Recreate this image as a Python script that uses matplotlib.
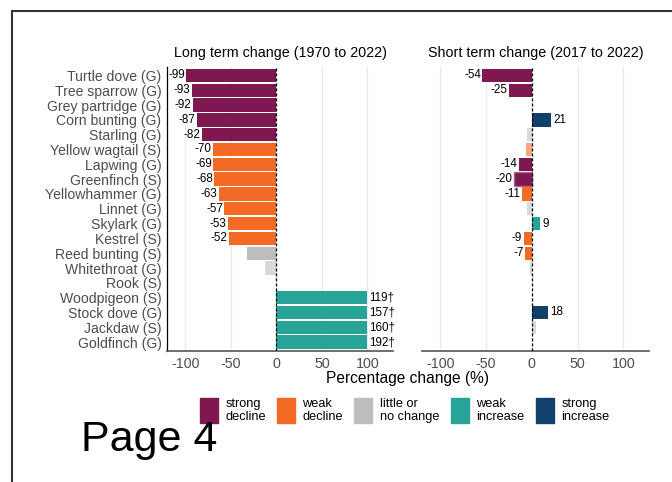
import matplotlib
matplotlib.use('Agg')
import matplotlib.pyplot as plt
from matplotlib.patches import Rectangle
import numpy as np

plt.rcParams['font.family'] = ['Liberation Sans', 'DejaVu Sans']
plt.rcParams['axes.unicode_minus'] = False

W, H = 672, 482

species = ['Turtle dove (G)', 'Tree sparrow (G)', 'Grey partridge (G)', 'Corn bunting (G)',
           'Starling (G)', 'Yellow wagtail (S)', 'Lapwing (G)', 'Greenfinch (S)',
           'Yellowhammer (G)', 'Linnet (G)', 'Skylark (G)', 'Kestrel (S)',
           'Reed bunting (S)', 'Whitethroat (G)', 'Rook (S)', 'Woodpigeon (S)',
           'Stock dove (G)', 'Jackdaw (S)', 'Goldfinch (G)']

long_change = [-99, -93, -92, -87, -82, -70, -69, -68, -63, -57, -53, -52,
               -32, -13, 0, 119, 157, 160, 192]
long_class = ['sd', 'sd', 'sd', 'sd', 'sd', 'wd', 'wd', 'wd', 'wd', 'wd', 'wd', 'wd',
              'nc', 'nc_ns', 'nc', 'wi', 'wi', 'wi', 'wi']
long_label = ['-99', '-93', '-92', '-87', '-82', '-70', '-69', '-68', '-63', '-57', '-53', '-52',
              '', '', '', '119†', '157†', '160†', '192†']

short_change = [-54, -25, np.nan, 21, -5, -6, -14, -20, -11, -5, 9, -9,
                -7, -2, np.nan, np.nan, 18, 4, np.nan]
short_class = ['sd', 'sd', 'nc', 'si', 'nc_ns', 'wd_ns', 'sd', 'sd_edge', 'wd', 'nc_ns', 'wi', 'wd',
               'wd', 'nc_ns', 'nc', 'nc', 'si', 'nc_ns', 'nc']
short_label = ['-54', '-25', '', '21', '', '', '-14', '-20', '-11', '', '9', '-9',
               '-7', '', '', '', '18', '', '']

palette = {'sd': '#7f1850', 'sd_edge': '#7f1850', 'wd': '#f26a24', 'wd_ns': '#f7a880',
           'nc': '#bdbdbd', 'nc_ns': '#d9d9d9', 'wi': '#27a397', 'si': '#11416b'}

legend_keys = ['sd', 'wd', 'nc', 'wi', 'si']
legend_text = ['strong\ndecline', 'weak\ndecline', 'little or\nno change', 'weak\nincrease', 'strong\nincrease']

CAP = 100


def px_axes(fig, x0, y0, x1, y1):
    return fig.add_axes([x0 / W, 1 - y1 / H, (x1 - x0) / W, (y1 - y0) / H])


def draw_panel(ax, values, classes, labels, title, show_y):
    y = np.arange(len(species))
    vals = np.array(values, dtype=float)
    shown = np.clip(vals, None, CAP)
    colors = [palette[c] for c in classes]
    edges = ['#a8668a' if c == 'sd_edge' else 'none' for c in classes]
    ax.set_xlim(-120, 128)
    ax.set_ylim(len(species) - 0.4, -0.6)
    for gx in [-100, -50, 50, 100]:
        ax.axvline(gx, color='#ebebeb', lw=1, zorder=0)
    bars = ax.barh(y, np.nan_to_num(shown), height=0.9, color=colors, edgecolor=edges,
                   linewidth=1, zorder=2)
    ax.axvline(0, color='black', lw=0.9, ls=(0, (2.5, 1.5)), zorder=3)
    for b, v, lab in zip(bars, shown, labels):
        if not lab:
            continue
        if v < 0:
            ax.annotate(lab, (v, b.get_y() + b.get_height() / 2), xytext=(-1, 0),
                        textcoords='offset points', ha='right', va='center', fontsize=8.4)
        else:
            ax.annotate(lab, (v, b.get_y() + b.get_height() / 2), xytext=(1.5, 0),
                        textcoords='offset points', ha='left', va='center', fontsize=8.4)
    ax.set_title(title, fontsize=10.3, pad=7)
    ax.set_xticks([-100, -50, 0, 50, 100])
    ax.tick_params(axis='x', length=0, pad=4, labelsize=10.3, labelcolor='#4d4d4d')
    for s in ['top', 'right']:
        ax.spines[s].set_visible(False)
    ax.spines['bottom'].set_color('#555555')
    ax.spines['bottom'].set_linewidth(1.2)
    if show_y:
        ax.set_yticks(y)
        ax.set_yticklabels(species)
        ax.tick_params(axis='y', length=0, pad=4, labelsize=10.1, labelcolor='#4d4d4d')
        ax.spines['left'].set_color('black')
        ax.spines['left'].set_linewidth(0.9)
    else:
        ax.set_yticks([])
        ax.spines['left'].set_visible(False)


def main():
    fig = plt.figure(figsize=(W / 100, H / 100), dpi=100)

    # page frame
    fig.add_artist(Rectangle((11.5 / W, -0.1), 1.2, 1 - 10.5 / H + 0.1, transform=fig.transFigure,
                             fill=False, edgecolor='#333333', lw=1.5))

    ax1 = px_axes(fig, 167, 66.5, 393, 351)
    ax2 = px_axes(fig, 422, 66.5, 649, 351)
    draw_panel(ax1, long_change, long_class, long_label, 'Long term change (1970 to 2022)', True)
    draw_panel(ax2, short_change, short_class, short_label, 'Short term change (2017 to 2022)', False)

    fig.text(408 / W, 1 - 379 / H, 'Percentage change (%)', ha='center', va='center', fontsize=11.2)

    sq_x = [200, 277, 354, 451, 536]
    for x0, key, txt in zip(sq_x, legend_keys, legend_text):
        fig.add_artist(Rectangle((x0 / W, 1 - 423 / H), 18 / W, 25 / H, transform=fig.transFigure,
                                 color=palette[key]))
        fig.text((x0 + 25.5) / W, 1 - 410.5 / H, txt, ha='left', va='center', fontsize=9.2,
                 linespacing=1.05)

    fig.text(81 / W, 1 - 451 / H, 'Page 4', ha='left', va='baseline', fontsize=31)

    fig.savefig('out.png', dpi=100)


if __name__ == '__main__':
    main()
